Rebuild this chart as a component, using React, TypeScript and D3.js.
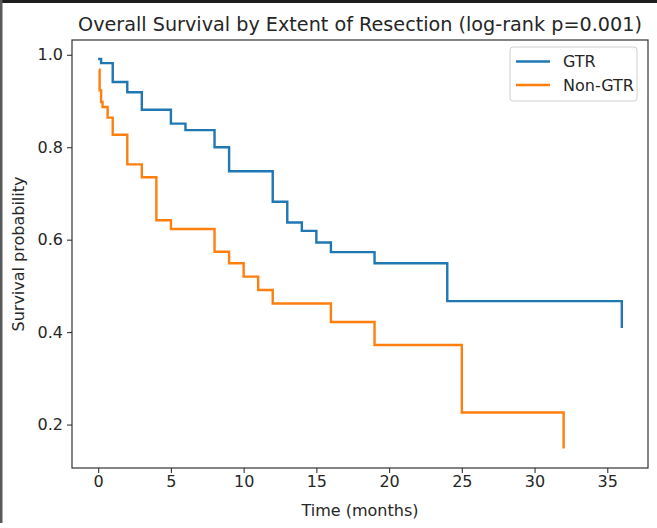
import { useEffect, useRef } from "react";
import * as d3 from "d3";

// Kaplan-Meier step points (time in months, survival)
const gtrTimes = [0, 0.2, 1, 2, 3, 5, 6, 8, 9, 12, 13, 14, 15, 16, 19, 24, 36];
const gtrSurv = [0.991, 0.982, 0.941, 0.919, 0.881, 0.851, 0.837, 0.8, 0.748, 0.682, 0.637, 0.619, 0.594, 0.573, 0.549, 0.467, 0.409];

const nonGtrTimes = [0.05, 0.1, 0.2, 0.3, 0.65, 1, 2, 3, 4, 5, 8, 9, 10, 11, 12, 16, 19, 25, 32];
const nonGtrSurv = [0.968, 0.923, 0.898, 0.887, 0.864, 0.827, 0.763, 0.735, 0.642, 0.623, 0.574, 0.549, 0.52, 0.491, 0.462, 0.422, 0.372, 0.226, 0.148];

const xTicks = [0, 5, 10, 15, 20, 25, 30, 35];
const yTicks = [0.2, 0.4, 0.6, 0.8, 1.0];

const seriesNames = ["GTR", "Non-GTR"];
const seriesColors = ["#1f77b4", "#ff7f0e"];

const W = 657;
const H = 528;
const margin = { top: 40, right: 9, bottom: 60, left: 72 };
const font = "'DejaVu Sans', sans-serif";
const textColor = "#262626";

const App = () => {
  const svgRef = useRef<SVGSVGElement>(null);

  useEffect(() => {
    const svg = d3.select(svgRef.current);
    svg.selectAll("*").remove();

    // screenshot frame
    svg.append("rect").attr("width", W).attr("height", H).attr("fill", "white");
    svg.append("rect").attr("x", 0).attr("y", 0).attr("width", W).attr("height", 3).attr("fill", "#1e1e1e");
    svg.append("rect").attr("x", 0).attr("y", 0).attr("width", 2.5).attr("height", 523).attr("fill", "#5a5a5a");

    const xScale = d3
      .scaleLinear()
      .domain([-1.8, 37.8])
      .range([margin.left, W - margin.right]);
    const yScale = d3
      .scaleLinear()
      .domain([0.106, 1.032])
      .range([H - margin.bottom, margin.top]);

    // axes
    const xAxis = svg
      .append("g")
      .attr("transform", `translate(0,${H - margin.bottom})`)
      .call(d3.axisBottom(xScale).tickValues(xTicks).tickSize(5).tickPadding(3).tickFormat(d3.format("d")));
    const yAxis = svg
      .append("g")
      .attr("transform", `translate(${margin.left},0)`)
      .call(d3.axisLeft(yScale).tickValues(yTicks).tickSize(5).tickPadding(4).tickFormat(d3.format(".1f")));

    [xAxis, yAxis].forEach((g) => {
      g.select(".domain").remove();
      g.selectAll("line").attr("stroke", "#333").attr("stroke-width", 1.1);
      g.selectAll("text").attr("fill", textColor).style("font-family", font).style("font-size", "16px");
    });

    // lines
    const line = d3
      .line<[number, number]>()
      .x((d) => xScale(d[0]))
      .y((d) => yScale(d[1]))
      .curve(d3.curveStepAfter);

    const series = [
      d3.zip(gtrTimes, gtrSurv) as [number, number][],
      d3.zip(nonGtrTimes, nonGtrSurv) as [number, number][],
    ];
    series.forEach((pts, i) => {
      svg
        .append("path")
        .datum(pts)
        .attr("d", line)
        .attr("fill", "none")
        .attr("stroke", seriesColors[i])
        .attr("stroke-width", 2.4);
    });

    // spines
    svg
      .append("rect")
      .attr("x", margin.left)
      .attr("y", margin.top)
      .attr("width", W - margin.right - margin.left)
      .attr("height", H - margin.bottom - margin.top)
      .attr("fill", "none")
      .attr("stroke", "#333")
      .attr("stroke-width", 1.2);

    // legend
    const lg = svg.append("g").attr("transform", "translate(510,47)");
    lg.append("rect")
      .attr("width", 127)
      .attr("height", 54)
      .attr("rx", 3)
      .attr("fill", "white")
      .attr("fill-opacity", 0.8)
      .attr("stroke", "#d0d0d0");
    seriesNames.forEach((name, i) => {
      const y = 14.5 + i * 23.5;
      lg.append("line")
        .attr("x1", 6)
        .attr("x2", 40)
        .attr("y1", y)
        .attr("y2", y)
        .attr("stroke", seriesColors[i])
        .attr("stroke-width", 2.4);
      lg.append("text")
        .attr("x", 53)
        .attr("y", y)
        .attr("dy", "0.35em")
        .attr("fill", textColor)
        .style("font-family", font)
        .style("font-size", "16px")
        .text(name);
    });

    // title and labels
    svg
      .append("text")
      .attr("x", (margin.left + W - margin.right) / 2)
      .attr("y", 31)
      .attr("text-anchor", "middle")
      .attr("fill", textColor)
      .style("font-family", font)
      .style("font-size", "19.2px")
      .text("Overall Survival by Extent of Resection (log-rank p=0.001)");

    svg
      .append("text")
      .attr("x", (margin.left + W - margin.right) / 2)
      .attr("y", 516)
      .attr("text-anchor", "middle")
      .attr("fill", textColor)
      .style("font-family", font)
      .style("font-size", "16px")
      .text("Time (months)");

    svg
      .append("text")
      .attr("transform", `translate(24,${(margin.top + H - margin.bottom) / 2}) rotate(-90)`)
      .attr("text-anchor", "middle")
      .attr("fill", textColor)
      .style("font-family", font)
      .style("font-size", "16px")
      .text("Survival probability");
  }, []);

  return (
    <div style={{ position: "absolute", left: 0, top: 0 }}>
      <svg ref={svgRef} width={W} height={H} style={{ display: "block" }}></svg>
    </div>
  );
};

export default App;
